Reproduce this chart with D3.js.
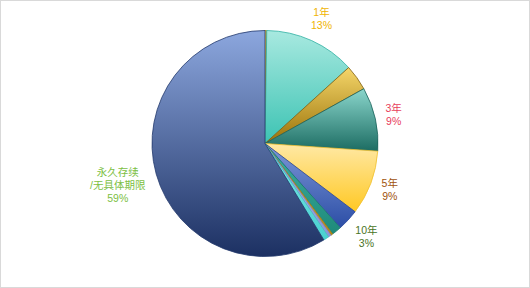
<!DOCTYPE html>
<html>
<head>
<meta charset="utf-8">
<script src="https://cdn.jsdelivr.net/npm/d3@7"></script>
<style>
  html, body { margin: 0; padding: 0; background: #fff; }
  #chart { width: 530px; height: 288px; }
</style>
</head>
<body>
<div id="chart"></div>
<script>
// slice data, clockwise from 12 o'clock
const categories = ['6个月', '1年', '2年', '3年', '5年', '10年', '15年', '20年', '30年', '50年', '永久存续/无具体期限'];
const values = [0.25, 13.1, 3.7, 9.2, 9.3, 3.1, 1.4, 0.3, 0.4, 0.8, 59.1];
// label text lines (empty = no label shown)
const labelLines = [
  [], ['1年', '13%'], [], ['3年', '9%'], ['5年', '9%'], ['10年', '3%'],
  [], [], [], [], ['永久存续', '/无具体期限', '59%']
];
const labelColors = [null, '#f0b400', null, '#e8405c', '#a0520c', '#4a7424', null, null, null, null, '#7cc043'];
// gradient top / bottom / outline for each slice
const fillTop = ['#f5d66a', '#a8e9e0', '#f5d66a', '#8ad6cc', '#ffe9a6', '#7e98d8', '#3fb0a0', '#e8c050', '#b4bcee', '#80e8e8', '#8ca7de'];
const fillBottom = ['#c89a20', '#3cc3b3', '#9a7208', '#1c6c62', '#ffc823', '#2c4ea6', '#1e8a7a', '#b08820', '#8c94d8', '#48d0d0', '#1c3062'];
const strokes = ['#b08a10', '#30b0a2', '#806010', '#1a625a', '#f0c030', '#24449a', '#1a7a6c', '#a07a10', '#8088cc', '#40c0c0', '#22396c'];

const width = 530, height = 288;
const cx = 265, cy = 143.5, radius = 113;

const svg = d3.select('#chart').append('svg')
  .attr('width', width)
  .attr('height', height);

svg.append('rect')
  .attr('x', 0.5).attr('y', 0.5)
  .attr('width', width - 1).attr('height', height - 1)
  .attr('fill', '#fff')
  .attr('stroke', '#d9d9d9');

const defs = svg.append('defs');
values.forEach((v, i) => {
  const g = defs.append('linearGradient')
    .attr('id', 'grad' + i)
    .attr('x1', 0).attr('y1', 0).attr('x2', 0).attr('y2', 1);
  g.append('stop').attr('offset', '0%').attr('stop-color', fillTop[i]);
  g.append('stop').attr('offset', '100%').attr('stop-color', fillBottom[i]);
});

const pie = d3.pie().sort(null).value(d => d)(values);
const arc = d3.arc().innerRadius(0).outerRadius(radius);

const g = svg.append('g').attr('transform', `translate(${cx},${cy})`);

g.selectAll('path.slice')
  .data(pie)
  .enter().append('path')
  .attr('class', 'slice')
  .attr('d', arc)
  .attr('fill', (d, i) => `url(#grad${i})`)
  .attr('stroke', (d, i) => strokes[i])
  .attr('stroke-width', 0.8)
  .attr('stroke-linejoin', 'round');

// labels outside the pie, one text per line
const fontSize = 10.5, lineH = 13;
const labelR = radius + 8;
pie.forEach((d, i) => {
  const lines = labelLines[i];
  if (!lines.length) return;
  const a = (d.startAngle + d.endAngle) / 2;
  const sx = Math.sin(a), sy = -Math.cos(a);
  const lab = g.append('g');
  let w = 0;
  lines.forEach((s, k) => {
    const t = lab.append('text')
      .attr('font-family', '"Liberation Sans", "Noto Sans CJK SC", sans-serif')
      .attr('font-size', fontSize)
      .attr('fill', labelColors[i])
      .attr('text-anchor', 'middle')
      .attr('x', 0)
      .attr('y', k * lineH)
      .text(s);
    w = Math.max(w, t.node().getComputedTextLength());
  });
  const h = lines.length * lineH;
  const extra = (w / 2) * Math.abs(sx) + (h / 2) * Math.abs(sy);
  const px = (labelR + extra) * sx;
  const py = (labelR + extra) * sy;
  const top = py - h / 2;
  lab.attr('transform', `translate(${px},${top + lineH * 0.78})`);
});
</script>
</body>
</html>
